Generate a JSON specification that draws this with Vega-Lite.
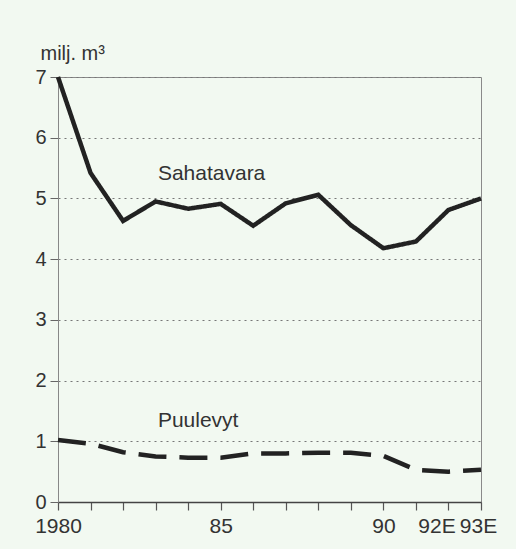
{
  "$schema": "https://vega.github.io/schema/vega-lite/v6.json",
  "width": 423,
  "height": 425,
  "autosize": {"type": "none"},
  "padding": {"left": 58, "top": 77, "right": 35, "bottom": 47},
  "background": "#f2f9f1",
  "config": {"view": {"stroke": "#8a8a8a", "strokeWidth": 1}, "font": "Liberation Sans"},
  "datasets": {
    "series": [
      {"year": 1980, "series": "Sahatavara", "value": 7.0},
      {"year": 1981, "series": "Sahatavara", "value": 5.42},
      {"year": 1982, "series": "Sahatavara", "value": 4.63},
      {"year": 1983, "series": "Sahatavara", "value": 4.95},
      {"year": 1984, "series": "Sahatavara", "value": 4.83},
      {"year": 1985, "series": "Sahatavara", "value": 4.91},
      {"year": 1986, "series": "Sahatavara", "value": 4.55},
      {"year": 1987, "series": "Sahatavara", "value": 4.92},
      {"year": 1988, "series": "Sahatavara", "value": 5.06},
      {"year": 1989, "series": "Sahatavara", "value": 4.56},
      {"year": 1990, "series": "Sahatavara", "value": 4.18},
      {"year": 1991, "series": "Sahatavara", "value": 4.29},
      {"year": 1992, "series": "Sahatavara", "value": 4.81},
      {"year": 1993, "series": "Sahatavara", "value": 5.0},
      {"year": 1980, "series": "Puulevyt", "value": 1.02},
      {"year": 1981, "series": "Puulevyt", "value": 0.96},
      {"year": 1982, "series": "Puulevyt", "value": 0.82},
      {"year": 1983, "series": "Puulevyt", "value": 0.75},
      {"year": 1984, "series": "Puulevyt", "value": 0.73},
      {"year": 1985, "series": "Puulevyt", "value": 0.73},
      {"year": 1986, "series": "Puulevyt", "value": 0.8},
      {"year": 1987, "series": "Puulevyt", "value": 0.8},
      {"year": 1988, "series": "Puulevyt", "value": 0.81},
      {"year": 1989, "series": "Puulevyt", "value": 0.81},
      {"year": 1990, "series": "Puulevyt", "value": 0.76},
      {"year": 1991, "series": "Puulevyt", "value": 0.53},
      {"year": 1992, "series": "Puulevyt", "value": 0.5},
      {"year": 1993, "series": "Puulevyt", "value": 0.53}
    ],
    "labels": [
      {"label": "Sahatavara", "year": 1983.07, "value": 5.3},
      {"label": "Puulevyt", "year": 1983.07, "value": 1.24}
    ]
  },
  "encoding": {
    "x": {
      "field": "year",
      "type": "quantitative",
      "scale": {"domain": [1980, 1993], "nice": false, "zero": false},
      "axis": {
        "values": [1980, 1981, 1982, 1983, 1984, 1985, 1986, 1987, 1988, 1989, 1990, 1991, 1992, 1993],
        "labelExpr": "datum.value == 1980 ? '1980' : datum.value == 1985 ? '85' : datum.value == 1990 ? '90' : datum.value == 1992 ? '92E' : datum.value == 1993 ? '93E' : ''",
        "title": null,
        "grid": false,
        "domainColor": "#444",
        "domainWidth": 1.5,
        "tickColor": "#555",
        "tickSize": 8,
        "tickWidth": 1.2,
        "labelFontSize": 21,
        "labelColor": "#333",
        "labelPadding": 22,
        "labelBaseline": "alphabetic",
        "labelFlush": false,
        "labelOverlap": false,
        "labelOffset": {
          "condition": [
            {"test": "datum.value == 1992", "value": -12},
            {"test": "datum.value == 1993", "value": -3}
          ],
          "value": 0
        }
      }
    },
    "y": {
      "field": "value",
      "type": "quantitative",
      "scale": {"domain": [0, 7], "nice": false},
      "axis": {
        "values": [0, 1, 2, 3, 4, 5, 6, 7],
        "grid": true,
        "gridDash": [2, 4],
        "gridColor": "#777",
        "domainColor": "#888",
        "tickColor": "#666",
        "tickSize": 8,
        "labelFontSize": 20,
        "labelColor": "#333",
        "labelPadding": 4,
        "title": "milj. m³",
        "titleAngle": 0,
        "titleAlign": "left",
        "titleBaseline": "alphabetic",
        "titleX": -18,
        "titleY": -18,
        "titleFontSize": 20,
        "titleFontWeight": "normal",
        "titleColor": "#333"
      }
    }
  },
  "layer": [
    {
      "data": {"name": "series"},
      "mark": {"type": "line", "strokeWidth": 4.5, "color": "#222"},
      "encoding": {
        "detail": {"field": "series"},
        "strokeDash": {
          "field": "series",
          "type": "nominal",
          "scale": {"domain": ["Sahatavara", "Puulevyt"], "range": [[1, 0], [28, 13]]},
          "legend": null
        }
      }
    },
    {
      "data": {"name": "labels"},
      "mark": {"type": "text", "align": "left", "baseline": "alphabetic", "fontSize": 21, "color": "#333"},
      "encoding": {"text": {"field": "label"}}
    }
  ]
}
